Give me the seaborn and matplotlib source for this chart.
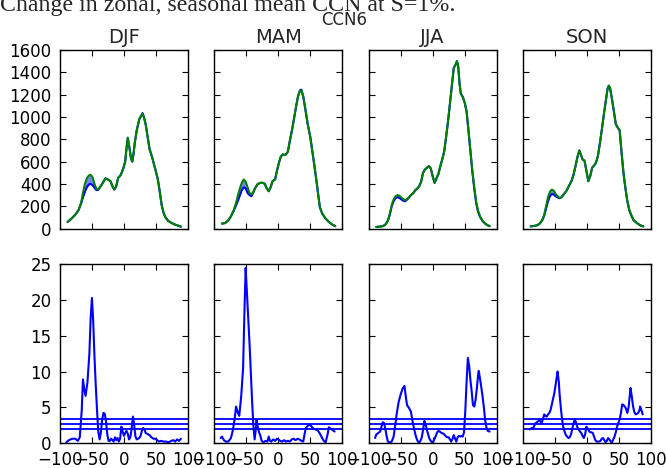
import matplotlib
matplotlib.use("Agg")
import matplotlib.pyplot as plt
import seaborn as sns

# ---- data ----
seasons = ["DJF", "MAM", "JJA", "SON"]

# top row: zonal mean CCN (control in blue, perturbed in green)
lat_top_djf = [-88, -82, -76, -71, -67, -64, -61, -58, -55, -52, -49, -46, -43, -40, -37, -33,
               -29, -25, -21, -18, -15, -12, -9, -5, -1, 2, 4, 6, 9, 11, 13, 15, 17, 20, 24,
               27, 29, 31, 34, 37, 40, 44, 47, 50, 53, 56, 59, 62, 65, 69, 74, 79, 84, 89]
ccn_ctl_djf = [60, 90, 125, 165, 225, 280, 330, 370, 395, 400, 390, 365, 345, 348, 375, 410,
               450, 440, 425, 380, 350, 380, 455, 480, 540, 600, 720, 810, 710, 630, 600, 670,
               770, 880, 980, 1010, 1035, 1005, 935, 825, 715, 640, 575, 510, 440, 330, 210,
               140, 100, 70, 52, 38, 28, 18]
ccn_pert_djf = [60, 90, 125, 165, 230, 320, 400, 450, 475, 482, 460, 400, 355, 350, 375, 410,
                450, 440, 425, 380, 350, 380, 455, 480, 540, 600, 720, 815, 710, 630, 600, 670,
                770, 880, 980, 1010, 1030, 1000, 930, 820, 710, 640, 575, 510, 440, 330, 210,
                140, 100, 70, 52, 38, 28, 18]

lat_top_mam = [-88, -83, -78, -74, -70, -66, -63, -60, -57, -54, -51, -48, -45, -42, -39, -36,
               -32, -28, -24, -21, -18, -15, -12, -9, -5, -2, 1, 4, 7, 9, 12, 15, 18, 22, 25,
               28, 31, 34, 36, 39, 42, 46, 50, 53, 56, 59, 62, 65, 69, 74, 79, 84, 89]
ccn_ctl_mam = [45, 50, 75, 110, 155, 210, 250, 300, 345, 370, 360, 320, 300, 290, 325, 365,
               400, 410, 410, 400, 360, 335, 370, 425, 440, 520, 590, 645, 665, 660, 665, 690,
               785, 900, 1000, 1100, 1190, 1240, 1245, 1185, 1080, 935, 820, 700, 580, 455,
               320, 190, 130, 90, 60, 38, 22]
ccn_pert_mam = [45, 50, 75, 110, 160, 230, 300, 360, 410, 440, 420, 370, 320, 305, 330, 365,
                400, 410, 410, 400, 360, 335, 370, 425, 440, 520, 590, 645, 665, 660, 665, 690,
                785, 900, 1000, 1100, 1190, 1235, 1240, 1180, 1080, 935, 820, 700, 580, 455,
                320, 190, 130, 90, 60, 38, 22]

lat_top_jja = [-88, -83, -78, -74, -70, -67, -64, -61, -58, -55, -52, -49, -46, -43, -40, -37,
               -34, -30, -27, -24, -21, -18, -15, -12, -9, -6, -3, 0, 3, 6, 9, 12, 15, 18, 21,
               24, 27, 30, 33, 36, 38, 40, 42, 44, 47, 50, 53, 56, 59, 62, 65, 68, 71, 74, 78,
               82, 86, 89]
ccn_ctl_jja = [15, 18, 22, 35, 70, 125, 200, 245, 275, 280, 275, 262, 250, 245, 260, 278,
               300, 320, 345, 360, 380, 420, 500, 530, 545, 560, 540, 470, 410, 450, 490, 560,
               620, 690, 820, 960, 1120, 1280, 1440, 1470, 1500, 1450, 1300, 1210, 1180, 1130,
               1050, 875, 690, 510, 360, 230, 150, 105, 68, 45, 30, 22]
ccn_pert_jja = [15, 18, 22, 35, 70, 130, 210, 260, 290, 300, 295, 280, 265, 255, 265, 280,
                300, 320, 345, 360, 380, 420, 500, 530, 545, 560, 540, 470, 410, 450, 490, 560,
                620, 690, 820, 960, 1120, 1280, 1440, 1470, 1500, 1450, 1300, 1210, 1180, 1130,
                1050, 880, 700, 520, 370, 240, 160, 110, 70, 45, 30, 22]

lat_top_son = [-88, -83, -78, -74, -70, -67, -64, -61, -58, -55, -52, -49, -46, -43, -40, -36,
               -32, -28, -24, -21, -18, -15, -12, -10, -7, -4, -1, 2, 5, 8, 11, 14, 17, 20, 23,
               26, 29, 32, 34, 36, 39, 42, 45, 48, 51, 54, 57, 60, 63, 66, 69, 73, 78, 83, 88]
ccn_ctl_son = [20, 24, 30, 45, 75, 115, 180, 245, 290, 310, 305, 290, 280, 272, 280, 310,
               340, 385, 430, 485, 560, 640, 700, 670, 620, 610, 520, 425, 470, 545, 565, 590,
               650, 760, 880, 1010, 1130, 1250, 1280, 1260, 1160, 1050, 935, 905, 880, 680,
               495, 360, 245, 165, 120, 73, 50, 30, 20]
ccn_pert_son = [20, 24, 30, 45, 75, 120, 200, 280, 330, 350, 340, 310, 290, 275, 280, 310,
                340, 385, 430, 485, 560, 640, 700, 670, 620, 610, 520, 425, 470, 545, 565, 590,
                650, 760, 880, 1010, 1130, 1250, 1280, 1260, 1160, 1050, 935, 905, 880, 680,
                500, 365, 250, 170, 125, 75, 50, 30, 20]

# bottom row: percentage change
lat_pct_djf = [-90, -86, -81, -76, -72, -69, -66, -64, -62, -60, -57, -54, -52, -50, -48, -46,
               -44, -42, -40, -38, -36, -34, -32, -30, -28, -26, -24, -22, -20, -18, -16, -14,
               -12, -10, -8, -6, -4, -2, 0, 2, 4, 6, 8, 10, 12, 14, 16, 18, 20, 22, 24, 26, 28,
               30, 32, 34, 36, 38, 40, 43, 46, 49, 52, 55, 58, 62, 66, 70, 74, 77, 80, 83, 86, 89]
pct_djf = [0.1, 0.4, 0.6, 0.6, 0.3, 0.8, 4.5, 8.9, 7.5, 6.6, 8.5, 12.5, 17.5, 20.3, 17.0, 12.0,
           8.0, 4.5, 1.5, 0.5, 1.5, 3.3, 4.2, 4.1, 3.0, 1.2, 0.3, 0.3, 0.6, 0.4, 0.2, 0.8,
           0.4, 0.7, 0.2, 0.6, 2.3, 1.6, 1.0, 1.4, 1.7, 1.3, 0.5, 0.8, 2.0, 3.7, 2.5, 0.9,
           0.5, 0.6, 0.7, 1.0, 1.7, 2.1, 1.9, 1.4, 1.3, 1.2, 1.1, 0.8, 0.6, 0.6, 0.4, 0.2,
           0.3, 0.2, 0.2, 0.1, 0.3, 0.4, 0.2, 0.5, 0.3, 0.6]

lat_pct_mam = [-90, -88, -85, -82, -78, -74, -71, -68, -66, -63, -61, -58, -55, -53, -51, -49,
               -47, -45, -43, -41, -39, -37, -35, -34, -32, -30, -28, -26, -23, -20, -17, -15,
               -13, -11, -8, -5, -2, 0, 3, 6, 9, 12, 15, 18, 21, 24, 27, 30, 33, 36, 39, 41,
               43, 46, 49, 52, 55, 58, 61, 63, 65, 68, 71, 74, 77, 79, 82, 85, 88]
pct_mam = [0.7, 0.9, 0.4, 0.2, 0.2, 0.7, 1.8, 3.5, 5.1, 4.2, 3.8, 6.5, 10.5, 18.0, 24.5, 21.0,
           17.5, 14.0, 10.0, 6.0, 2.5, 0.5, 2.0, 3.2, 2.2, 1.5, 1.0, 0.3, 0.1, 0.3, 0.2, 0.9,
           0.3, 0.2, 0.5, 0.3, 0.6, 0.5, 0.3, 0.2, 0.4, 0.2, 0.3, 0.2, 0.5, 0.6, 0.4, 0.6,
           0.5, 0.3, 0.2, 1.2, 2.1, 2.4, 2.6, 2.3, 2.0, 1.9, 1.8, 1.6, 1.3, 0.8, 0.3, 0.1,
           1.2, 2.2, 2.0, 1.8, 1.6]

lat_pct_jja = [-90, -88, -85, -82, -80, -78, -76, -74, -72, -70, -67, -64, -61, -58, -56, -53,
               -50, -47, -44, -42, -40, -37, -34, -31, -29, -27, -25, -23, -21, -19, -17, -15,
               -13, -11, -9, -7, -5, -3, -1, 1, 3, 5, 7, 9, 11, 14, 17, 19, 21, 23, 25, 27, 29,
               31, 33, 35, 37, 39, 41, 43, 45, 47, 49, 51, 53, 55, 57, 59, 61, 63, 65, 67, 69,
               71, 72, 74, 76, 78, 80, 82, 84, 86, 89]
pct_jja = [0.7, 1.2, 1.4, 1.6, 2.3, 2.9, 2.8, 2.0, 1.0, 0.2, 0.1, 0.2, 0.9, 2.8, 4.2, 5.8,
           6.8, 7.6, 8.0, 6.5, 5.3, 4.9, 4.4, 2.8, 2.0, 1.2, 0.6, 0.2, 0.1, 0.3, 0.8, 1.8,
           3.1, 2.6, 1.8, 1.2, 0.6, 0.3, 0.1, 0.2, 0.6, 1.0, 1.5, 1.7, 1.6, 1.4, 1.3, 1.1,
           0.9, 0.8, 0.8, 0.5, 0.2, 0.6, 1.1, 0.6, 0.2, 0.8, 1.0, 0.9, 1.0, 0.9, 1.5, 4.5,
           8.5, 11.9, 10.8, 8.8, 7.2, 5.3, 5.1, 6.0, 7.6, 9.5, 10.1, 9.0, 7.8, 6.5, 5.0,
           3.2, 2.2, 1.7, 1.6]

lat_pct_son = [-90, -88, -86, -84, -82, -80, -77, -74, -71, -69, -67, -65, -63, -61, -59, -57,
               -55, -53, -51, -49, -47, -46, -44, -43, -41, -39, -37, -35, -33, -31, -29, -27,
               -25, -23, -21, -19, -17, -15, -13, -11, -9, -7, -5, -3, -1, 1, 3, 5, 7, 9, 11,
               13, 15, 17, 19, 21, 23, 25, 27, 29, 31, 33, 35, 37, 39, 41, 43, 45, 47, 49, 51,
               53, 55, 57, 59, 61, 63, 65, 67, 68, 70, 72, 74, 76, 78, 80, 82, 83, 85, 87]
pct_son = [1.9, 2.0, 2.1, 2.1, 2.5, 2.8, 3.0, 3.2, 2.8, 3.3, 4.0, 3.8, 3.7, 4.0, 4.2, 4.6,
           5.4, 6.2, 7.0, 8.2, 9.4, 10.0, 8.5, 7.0, 5.0, 3.3, 2.2, 1.6, 1.1, 0.9, 0.7, 0.8,
           1.2, 2.0, 2.8, 3.3, 2.8, 2.2, 1.9, 1.6, 1.4, 1.0, 0.7, 1.2, 2.3, 2.0, 1.7, 1.5,
           1.5, 1.4, 0.9, 0.4, 0.2, 0.2, 0.2, 0.3, 0.6, 0.7, 0.4, 0.1, 0.3, 0.7, 0.5, 0.2,
           0.1, 0.5, 0.9, 1.5, 2.3, 2.8, 3.3, 4.2, 5.4, 5.3, 5.1, 4.8, 4.2, 5.0, 6.8, 7.7,
           6.5, 5.1, 4.3, 4.0, 4.1, 4.2, 4.6, 5.1, 4.6, 4.0]

# significance levels drawn as horizontal lines
pct_levels = [1.9, 2.65, 3.4]

lat_top = [lat_top_djf, lat_top_mam, lat_top_jja, lat_top_son]
ccn_ctl = [ccn_ctl_djf, ccn_ctl_mam, ccn_ctl_jja, ccn_ctl_son]
ccn_pert = [ccn_pert_djf, ccn_pert_mam, ccn_pert_jja, ccn_pert_son]
lat_pct = [lat_pct_djf, lat_pct_mam, lat_pct_jja, lat_pct_son]
pct = [pct_djf, pct_mam, pct_jja, pct_son]

# ---- style: old matplotlib look ----
sns.set_style("white")
plt.rcParams.update({
    "font.family": ["DejaVu Sans"],
    "font.size": 12,
    "axes.edgecolor": "black",
    "axes.linewidth": 1.0,
    "xtick.direction": "in",
    "ytick.direction": "in",
    "xtick.top": True,
    "ytick.right": True,
    "xtick.bottom": True,
    "ytick.left": True,
    "xtick.major.size": 4,
    "ytick.major.size": 4,
    "xtick.major.width": 0.8,
    "ytick.major.width": 0.8,
    "xtick.labelsize": 12,
    "ytick.labelsize": 12,
    "xtick.color": "black",
    "ytick.color": "black",
    "xtick.major.pad": 6,
    "ytick.major.pad": 6,
})

fig, axes = plt.subplots(2, 4, figsize=(6.66, 4.68), dpi=100)
fig.subplots_adjust(left=0.09, right=0.9775, bottom=0.0534, top=0.8932,
                    wspace=0.206, hspace=0.2)

for i, season in enumerate(seasons):
    ax = axes[0, i]
    sns.lineplot(x=lat_top[i], y=ccn_ctl[i], ax=ax, color="#0000ff", linewidth=1.5,
                 estimator=None, sort=False)
    ax.fill_between(lat_top[i], ccn_ctl[i], ccn_pert[i], color="#0000ff", alpha=0.5, lw=0)
    sns.lineplot(x=lat_top[i], y=ccn_pert[i], ax=ax, color="#008000", linewidth=1.5,
                 estimator=None, sort=False)
    ax.set_xlim(-100, 100)
    ax.set_ylim(0, 1600)
    ax.set_xticks([-100, -50, 0, 50, 100])
    ax.set_yticks(range(0, 1601, 200))
    ax.set_xticklabels([])
    if i > 0:
        ax.set_yticklabels([])
    ax.set_title(season, fontsize=14, pad=5)

    ax = axes[1, i]
    sns.lineplot(x=lat_pct[i], y=pct[i], ax=ax, color="#0000ff", linewidth=1.5,
                 estimator=None, sort=False)
    for lev in pct_levels:
        ax.axhline(lev, color="#0000ff", linewidth=1.3)
    ax.set_xlim(-100, 100)
    ax.set_ylim(0, 25)
    ax.set_xticks([-100, -50, 0, 50, 100])
    ax.set_yticks(range(0, 26, 5))
    if i > 0:
        ax.set_yticklabels([])

for ax in axes.flat:
    ax.set_xlabel("")
    ax.set_ylabel("")
    for sp in ax.spines.values():
        sp.set_visible(True)
        sp.set_color("black")

fig.text(0.0, 1 - 11 / 468, "Change in zonal, seasonal mean CCN at S=1%.",
         fontsize=17.2, family=["Liberation Serif"], ha="left", va="baseline")
fig.text(0.517, 1 - 20 / 468, "CCN6", fontsize=12, ha="center", va="center")

fig.savefig("out.png", dpi=100)
